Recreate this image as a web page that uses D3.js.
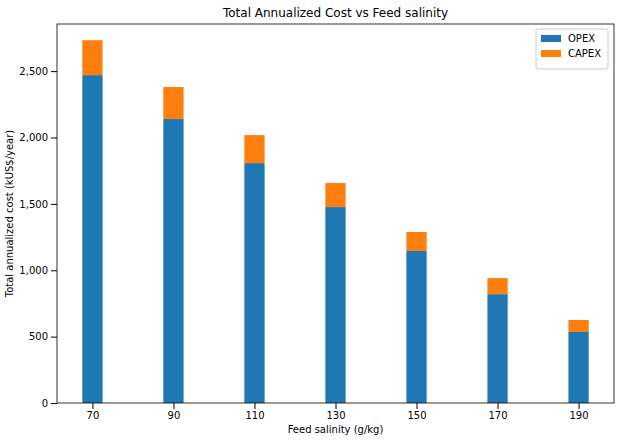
<!DOCTYPE html>
<html><head><meta charset="utf-8">
<script src="https://cdn.jsdelivr.net/npm/d3@7"></script>
<style>body{margin:0;background:#fff;font-family:"DejaVu Sans",sans-serif}</style>
</head><body><svg id="c" width="618" height="441"></svg>
<script>
// values
var salinity = [70, 90, 110, 130, 150, 170, 190];
var opex = [2470, 2139, 1807, 1476, 1145, 820, 535];
var capex = [263, 241, 211, 181, 143, 121, 90];
var yTicks = [0, 500, 1000, 1500, 2000, 2500];

var margin = {top: 24, right: 4, bottom: 38, left: 57},
    width = 618 - margin.left - margin.right,
    height = 441 - margin.top - margin.bottom;

var svg = d3.select("#c").append("g")
  .attr("transform", "translate(" + margin.left + "," + margin.top + ")");

var x = d3.scaleLinear().domain([61.25, 198.75]).range([0, width]);
var y = d3.scaleLinear().domain([0, 2855]).range([height, 0]);
var bw = x(72.5) - x(67.5);

svg.selectAll(".opex").data(salinity).enter().append("rect")
  .attr("x", d => x(d) - bw / 2).attr("width", bw)
  .attr("y", (d, i) => y(opex[i])).attr("height", (d, i) => y(0) - y(opex[i]))
  .attr("fill", "#1f77b4");
svg.selectAll(".capex").data(salinity).enter().append("rect")
  .attr("x", d => x(d) - bw / 2).attr("width", bw)
  .attr("y", (d, i) => y(opex[i] + capex[i])).attr("height", (d, i) => y(0) - y(capex[i]))
  .attr("fill", "#ff7f0e");

var xa = svg.append("g").attr("transform", "translate(0," + height + ")")
  .call(d3.axisBottom(x).tickValues(salinity).tickSizeOuter(0));
var ya = svg.append("g").call(d3.axisLeft(y).tickValues(yTicks).tickSizeOuter(0));
[xa, ya].forEach(a => a.selectAll("text").style("font-size", "10px").style("font-family", "DejaVu Sans"));
xa.select(".domain").remove(); ya.select(".domain").remove();

svg.append("rect").attr("width", width).attr("height", height)
  .attr("fill", "none").attr("stroke", "#000").attr("stroke-width", 0.8);

svg.append("text").attr("x", width / 2).attr("y", -7).attr("text-anchor", "middle")
  .style("font-size", "12px").text("Total Annualized Cost vs Feed salinity");
svg.append("text").attr("x", width / 2).attr("y", height + 30).attr("text-anchor", "middle")
  .style("font-size", "10px").text("Feed salinity (g/kg)");
svg.append("text").attr("transform", "rotate(-90)").attr("x", -height / 2).attr("y", -44)
  .attr("text-anchor", "middle").style("font-size", "10px").text("Total annualized cost (kUS$/year)");

// legend
var lg = svg.append("g").attr("transform", "translate(" + (width - 78) + ",5)");
lg.append("rect").attr("width", 72).attr("height", 40).attr("rx", 2)
  .attr("fill", "#fff").attr("stroke", "#ccc");
[["OPEX", "#1f77b4"], ["CAPEX", "#ff7f0e"]].forEach((s, i) => {
  lg.append("rect").attr("x", 5).attr("y", 6 + i * 15).attr("width", 20).attr("height", 7).attr("fill", s[1]);
  lg.append("text").attr("x", 32).attr("y", 13 + i * 15).style("font-size", "10px").text(s[0]);
});
</script></body></html>
